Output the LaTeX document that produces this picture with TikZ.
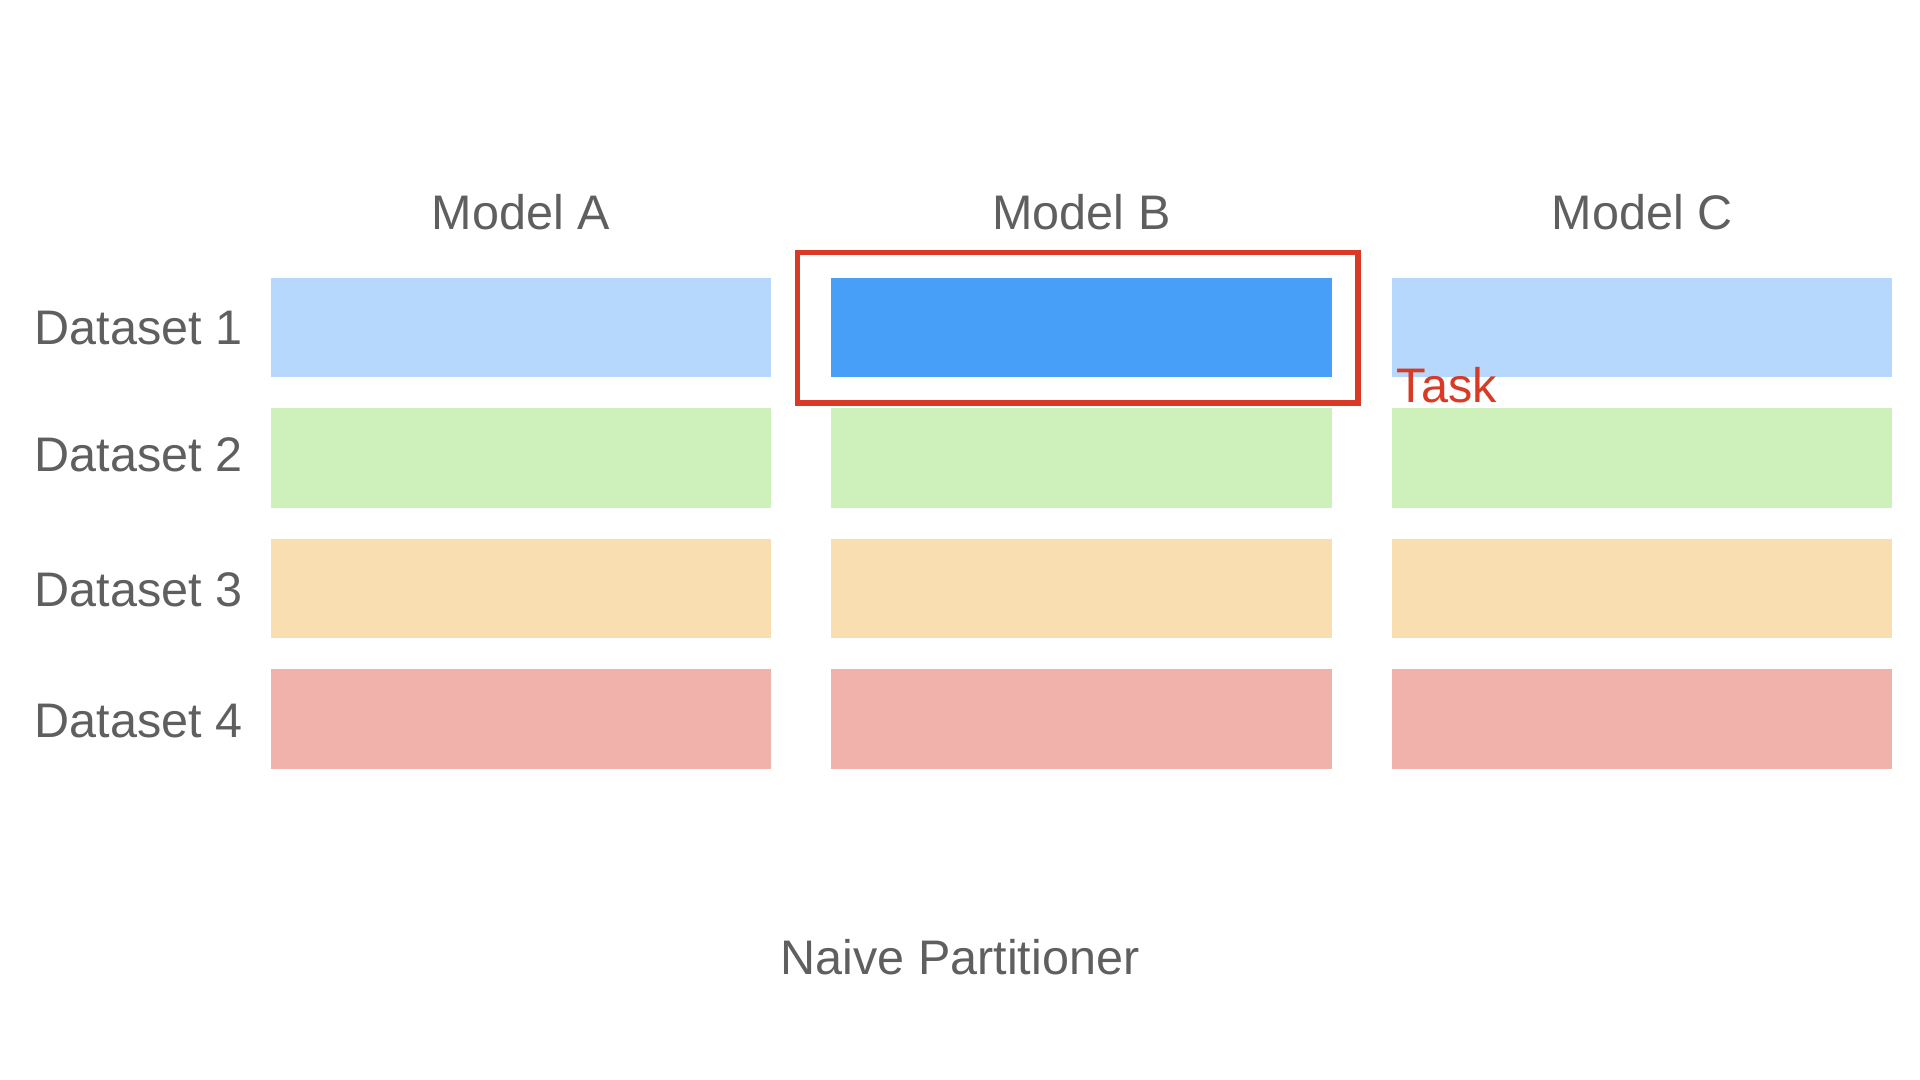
\documentclass[tikz,border=0pt]{standalone}
\usepackage{fontspec}
\setmainfont{Liberation Sans}
\usetikzlibrary{positioning}
\definecolor{labelgray}{HTML}{5F5F5F}
\definecolor{taskred}{HTML}{D93A26}
\definecolor{taskblue}{HTML}{479FF8}
\definecolor{rowblue}{HTML}{B5D8FC}
\definecolor{rowgreen}{HTML}{CEF0BB}
\definecolor{roworange}{HTML}{F9DEB1}
\definecolor{rowred}{HTML}{F0B2AA}
\tikzset{
  cell/.style={minimum width=5cm, minimum height=0.99cm, inner sep=0pt, outer sep=0pt},
  lbl/.style={font=\fontsize{13.8}{16}\selectfont, text=labelgray, inner sep=0pt},
}

\begin{document}
\begin{tikzpicture}[x=0.01cm, y=-0.01cm]
    \useasboundingbox (0,0) rectangle (1920,1080);

    % Model headers
    \foreach \m [count=\i from 0] in {A,B,C} {
      \node[lbl] (model-\m) at (521+560.5*\i, 212) {Model \m};
    }

    % Dataset rows
    \foreach \d/\col/\ly [count=\j from 0] in {1/rowblue/328, 2/rowgreen/455, 3/roworange/590, 4/rowred/721} {
      \node[lbl, anchor=west] (data-\d) at (34, \ly) {Dataset \d};
      \foreach \m [count=\i from 0] in {A,B,C}
        \node[cell, fill=\col] (cell-\m-\d) at (521+560.5*\i, 327.5+130.5*\j) {};
    }

    % Selected task
    \fill[taskblue] (cell-B-1.north west) rectangle (cell-B-1.south east);
    \draw[taskred, line width=0.055cm] (797.5,252.5) rectangle (1358,403);
    \node[lbl, text=taskred, anchor=base west] (task) at (1396,403) {Task};

    % Caption
    \node[lbl] (caption) at (960,957) {Naive Partitioner};
\end{tikzpicture}
\end{document}
